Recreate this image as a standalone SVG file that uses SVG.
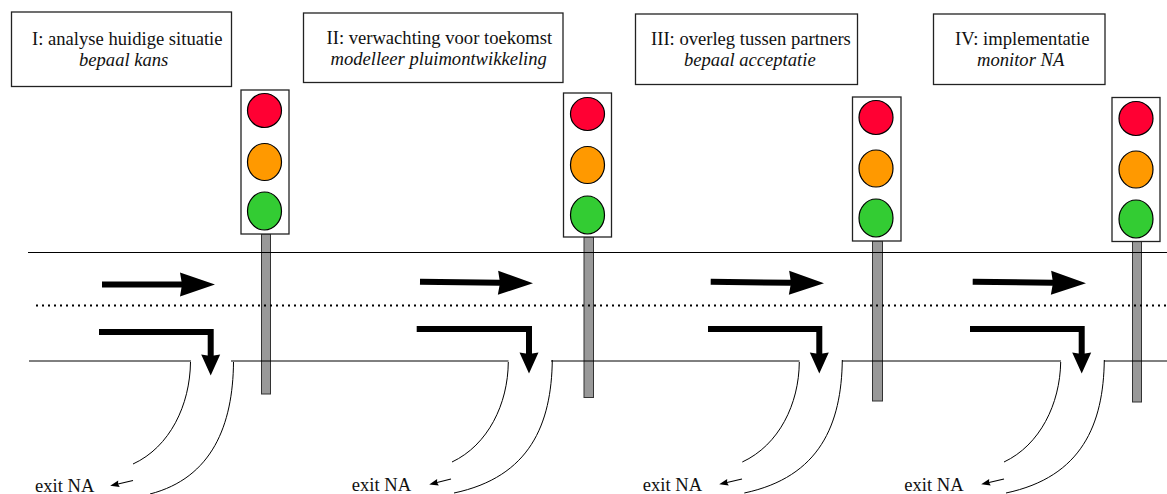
<svg xmlns="http://www.w3.org/2000/svg" width="1167" height="494" viewBox="0 0 1167 494">
<style>
text{font-family:"Liberation Serif","Times New Roman",serif;font-size:18.6px;fill:#111}
.i{font-style:italic}
.box{fill:#fff;stroke:#222;stroke-width:1.3}
.housing{fill:#fff;stroke:#222;stroke-width:1.3}
.lamp{stroke:#000;stroke-width:1.2}
.r{fill:#ff0033}.o{fill:#ff9900}.g{fill:#33cc33}
.pole{fill:#999;stroke:#333;stroke-width:1}
.road{fill:none;stroke:#000;stroke-width:1}
.dots{fill:none;stroke:#000;stroke-width:2;stroke-dasharray:2 4}
.go{fill:none;stroke:#000;stroke-width:6;marker-end:url(#bigHead)}
.turn{fill:none;stroke:#000;stroke-width:6;marker-end:url(#turnHead)}
.curve{fill:none;stroke:#000;stroke-width:1}
.small{fill:none;stroke:#000;stroke-width:1.2;marker-end:url(#smallHead)}
</style>
<defs>
<marker id="bigHead" markerUnits="userSpaceOnUse" markerWidth="40" markerHeight="30" refX="2" refY="15" orient="auto" overflow="visible"><path d="M0,3 L35,15 L0,27 L2,15 z"/></marker>
<marker id="turnHead" markerUnits="userSpaceOnUse" markerWidth="24" markerHeight="24" refX="1.5" refY="12" orient="auto" overflow="visible"><path d="M0,2.5 L21,12 L0,21.5 L1.5,12 z"/></marker>
<marker id="smallHead" markerUnits="userSpaceOnUse" markerWidth="10" markerHeight="8" refX="1" refY="4" orient="auto" overflow="visible"><path d="M0,0.6 L9,4 L0,7.4 L1,4 z"/></marker>
</defs>
<g id="step1">
<rect class="box" x="11.5" y="12" width="220" height="74.5"/>
<text x="32" y="45">I: analyse huidige situatie</text>
<text class="i" x="79" y="66">bepaal kans</text>
</g>
<g id="step2">
<rect class="box" x="303.5" y="13" width="259.5" height="69.5"/>
<text x="326.5" y="43.5">II: verwachting voor toekomst</text>
<text class="i" x="330.5" y="65">modelleer pluimontwikkeling</text>
</g>
<g id="step3">
<rect class="box" x="635.5" y="14" width="222" height="70.5"/>
<text x="651" y="45">III: overleg tussen partners</text>
<text class="i" x="684" y="66">bepaal acceptatie</text>
</g>
<g id="step4">
<rect class="box" x="933.5" y="14" width="171.5" height="70.5"/>
<text x="955" y="45">IV: implementatie</text>
<text class="i" x="977" y="66">monitor NA</text>
</g>
<g id="light1">
<rect class="pole" x="261.5" y="234" width="9" height="160"/>
<rect class="housing" x="241" y="90" width="48" height="144"/>
<ellipse class="lamp r" cx="264.5" cy="110.5" rx="17" ry="17"/>
<ellipse class="lamp o" cx="264.5" cy="162" rx="17" ry="18.5"/>
<ellipse class="lamp g" cx="264.5" cy="211" rx="17" ry="19"/>
</g>
<g id="light2">
<rect class="pole" x="584" y="237" width="9.5" height="160.5"/>
<rect class="housing" x="563.5" y="93" width="48" height="144"/>
<ellipse class="lamp r" cx="587.5" cy="114" rx="17" ry="16.5"/>
<ellipse class="lamp o" cx="587.5" cy="165" rx="17" ry="18.5"/>
<ellipse class="lamp g" cx="587.5" cy="215" rx="17" ry="19"/>
</g>
<g id="light3">
<rect class="pole" x="872.5" y="241" width="10" height="160"/>
<rect class="housing" x="852.5" y="97" width="48.5" height="144"/>
<ellipse class="lamp r" cx="876" cy="117.5" rx="17" ry="17"/>
<ellipse class="lamp o" cx="876" cy="168.5" rx="17" ry="18.5"/>
<ellipse class="lamp g" cx="876" cy="218" rx="17" ry="19"/>
</g>
<g id="light4">
<rect class="pole" x="1132.5" y="241" width="9" height="161"/>
<rect class="housing" x="1112" y="97.5" width="48" height="144"/>
<ellipse class="lamp r" cx="1136" cy="118.5" rx="17" ry="17"/>
<ellipse class="lamp o" cx="1136" cy="169.5" rx="17" ry="18.5"/>
<ellipse class="lamp g" cx="1136" cy="219" rx="17" ry="19"/>
</g>
<g id="connectors">
<path class="road" d="M28,252.5H1167"/>
<path class="dots" d="M36,305.5H1167"/>
<path class="road" d="M29,361H191M231,361H508.5M551,361H799.5M842,361H1061M1104,361H1167"/>
<path class="go" d="M102,284.5H182"/>
<path class="go" d="M420,281.8L500,282.8"/>
<path class="go" d="M710.7,281.8L791,282.8"/>
<path class="go" d="M972.7,281.8L1053,282.8"/>
<path class="turn" d="M99,332H210.7V356"/>
<path class="turn" d="M416.7,329H529V354"/>
<path class="turn" d="M708,329H819.3V354"/>
<path class="turn" d="M970,329H1081.7V354"/>
<path class="curve" d="M190.5,362C190,405 170,447 133,464"/>
<path class="curve" d="M233.5,362C233,425 212,478 150,494"/>
<path class="curve" d="M508.3,362C508,404 488,445 452,462"/>
<path class="curve" d="M552.3,360C551.5,424 530,477 454,493"/>
<path class="curve" d="M799.3,362C799,404 779,445 742.3,462"/>
<path class="curve" d="M842.3,360C841.5,424 820,477 744.3,493"/>
<path class="curve" d="M1060.7,362C1060,404 1040,445 1004,462"/>
<path class="curve" d="M1104.3,360C1103.5,424 1082,477 1006,493"/>
<path class="small" d="M133,480.5L118,484"/>
<path class="small" d="M451,479L437,482.5"/>
<path class="small" d="M742,479L727,482.5"/>
<path class="small" d="M1004,479L989,482.5"/>
</g>
<text x="35" y="491.5">exit NA</text>
<text x="351.7" y="491">exit NA</text>
<text x="642.7" y="491">exit NA</text>
<text x="904.3" y="491">exit NA</text>
</svg>
